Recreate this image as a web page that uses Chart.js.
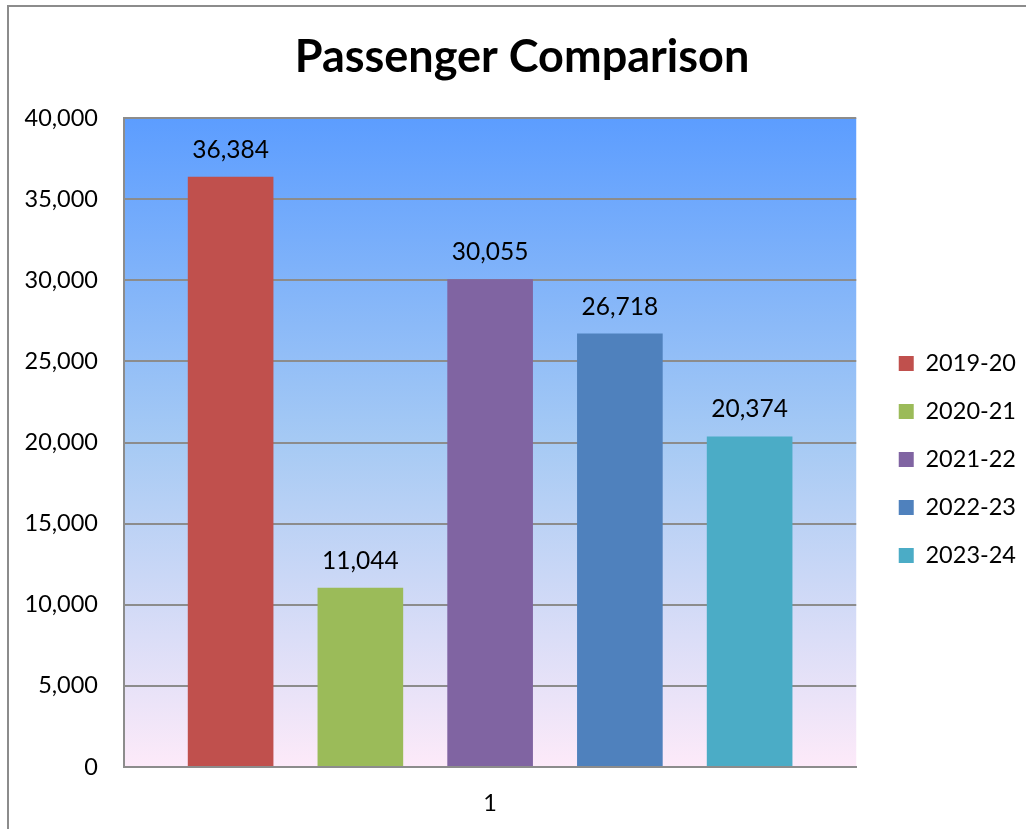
<!DOCTYPE html>
<html>
<head>
<meta charset="utf-8">
<script src="https://cdn.jsdelivr.net/npm/chart.js@4.4.0/dist/chart.umd.min.js"></script>
<style>
  body { margin: 0; background: #fff; overflow: hidden; }
  #frame { position: absolute; left: 7px; top: 5px; width: 1200px; height: 1000px; border-left: 2px solid #8c8c8c; border-top: 2px solid #8c8c8c; }
  #wrap { position: absolute; left: 0; top: 0; width: 1026px; height: 829px; }
</style>
</head>
<body>
<div id="frame"></div>
<div id="wrap"><canvas id="canvas-1" width="1026" height="829"></canvas></div>
<script>
var categories = ['1'];
var seasons = ['2019-20', '2020-21', '2021-22', '2022-23', '2023-24'];
var passengers = [36384, 11044, 30055, 26718, 20374];
var yTicks = [0, 5000, 10000, 15000, 20000, 25000, 30000, 35000, 40000];

var barColors = ['#C0504D', '#9BBB59', '#8064A2', '#4F81BD', '#4BACC6'];
var fontFamily = 'Lato, "Open Sans", sans-serif';

var datasets = seasons.map(function(s, i){
  return {
    label: s,
    data: [passengers[i]],
    backgroundColor: barColors[i],
    borderWidth: 0
  };
});

// gradient plot background, like the excel one
var plotBg = {
  id: 'plotBg',
  beforeDraw: function(chart){
    var a = chart.chartArea, ctx = chart.ctx;
    var g = ctx.createLinearGradient(0, a.top, 0, a.bottom);
    g.addColorStop(0, '#5C9DFF');
    g.addColorStop(0.5, '#A6CAF4');
    g.addColorStop(1, '#FDEAF9');
    ctx.save();
    ctx.fillStyle = g;
    ctx.fillRect(a.left, a.top, a.right - a.left, a.bottom - a.top);
    ctx.restore();
  }
};

// shift legend away from the plot and title a bit right
var nudge = {
  id: 'nudge',
  afterLayout: function(chart){
    var l = chart.legend;
    l.left += 18; l.right += 18;
    l.top += 45; l.bottom += 45;
    var t = chart.titleBlock;
    t.left += 18; t.right += 18;
  }
};

// value labels above bars
var valueLabels = {
  id: 'valueLabels',
  afterDatasetsDraw: function(chart){
    var ctx = chart.ctx;
    ctx.save();
    ctx.font = '24.5px ' + fontFamily;
    ctx.fillStyle = '#000';
    ctx.textAlign = 'center';
    ctx.textBaseline = 'alphabetic';
    chart.data.datasets.forEach(function(ds, i){
      var meta = chart.getDatasetMeta(i);
      meta.data.forEach(function(bar, j){
        ctx.fillText(ds.data[j].toLocaleString('en-US'), bar.x, bar.y - 19);
      });
    });
    ctx.restore();
  }
};

var chart = new Chart(document.getElementById('canvas-1'), {
  type: 'bar',
  data: { labels: categories, datasets: datasets },
  plugins: [plotBg, nudge, valueLabels],
  options: {
    responsive: false,
    animation: false,
    layout: { padding: { left: 0, right: 18, top: 0, bottom: 0 } },
    datasets: { bar: { barPercentage: 0.66, categoryPercentage: 0.886 } },
    plugins: {
      tooltip: { enabled: false },
      title: {
        display: true,
        text: 'Passenger Comparison',
        color: '#000',
        font: { family: fontFamily, size: 45, weight: 'bold' },
        padding: { top: 30, bottom: 34 }
      },
      legend: {
        position: 'right',
        labels: {
          color: '#000',
          font: { family: fontFamily, size: 23.5 },
          boxWidth: 15,
          boxHeight: 15,
          padding: 24.5
        }
      }
    },
    scales: {
      x: {
        grid: { display: false },
        border: { display: true, color: '#8c8c8c', width: 2 },
        ticks: { color: '#000', font: { family: fontFamily, size: 23.5 }, padding: 14 },
        afterFit: function(s){ s.height = 62; }
      },
      y: {
        min: 0,
        max: yTicks[yTicks.length - 1],
        afterBuildTicks: function(s){ s.ticks = yTicks.map(function(v){ return { value: v }; }); },
        grid: { color: '#8c8c8c', lineWidth: 2, drawTicks: false },
        border: { display: true, color: '#8c8c8c', width: 2 },
        ticks: { color: '#000', font: { family: fontFamily, size: 23.5 }, padding: 26 },
        afterFit: function(s){ s.width = 124; }
      }
    }
  }
});
</script>
</body>
</html>
